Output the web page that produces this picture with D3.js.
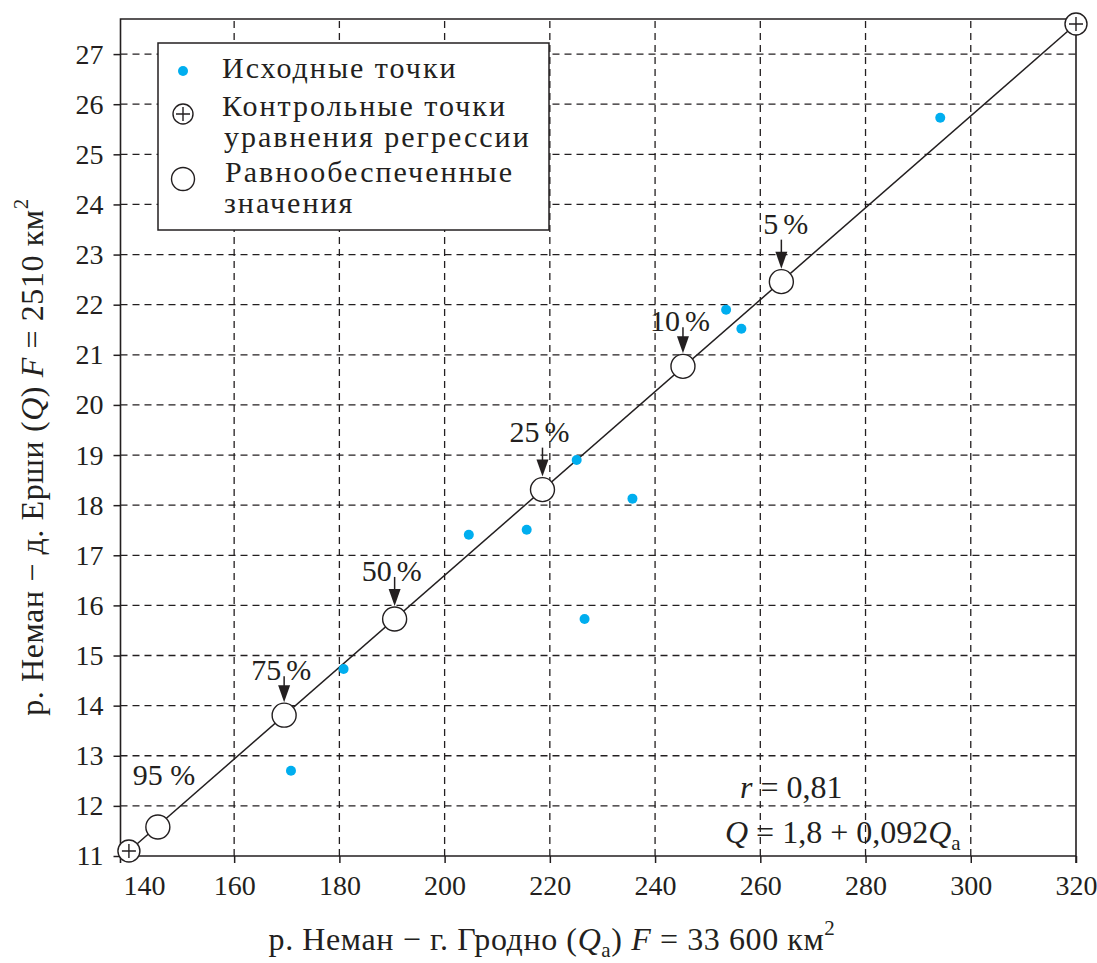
<!DOCTYPE html>
<html>
<head>
<meta charset="utf-8">
<script src="https://cdn.jsdelivr.net/npm/d3@7"></script>
<style>
  body { margin: 0; background: #fff; }
  svg text { font-family: "Liberation Serif", "Times New Roman", Times, Tinos, "DejaVu Serif", "Noto Serif", serif; fill: #231f20; }
</style>
</head>
<body>
<svg id="chart" width="1097" height="963"></svg>
<script>
// исходные точки (Qa - Гродно, Q - Ерши)
const sourceQa = [294.2, 253.5, 256.4, 225.1, 235.7, 204.6, 215.6, 226.6, 180.8, 170.8];
const sourceQ = [25.73, 21.9, 21.52, 18.9, 18.13, 17.41, 17.51, 15.73, 14.73, 12.7];

// контрольные точки уравнения регрессии
const controlQa = [140, 320];
const controlQ = [11.1, 27.6];

// равнообеспеченные значения
const probLabels = ["95", "75", "50", "25", "10", "5"];
const probQa = [145.5, 169.5, 190.5, 218.6, 245.3, 264.0];
const probQ = [11.58, 13.81, 15.73, 18.31, 20.77, 22.46];

const xTicks = d3.range(140, 321, 20);
const yTicks = d3.range(11, 28, 1);

const ink = "#231f20";
const blue = "#00aeef";
const serif = '"Liberation Serif", "Times New Roman", Times, Tinos, "DejaVu Serif", "Noto Serif", serif';

const svg = d3.select("#chart");

const x = d3.scaleLinear().domain([138.4, 320]).range([120.5, 1076]);
const y = d3.scaleLinear().domain([11, 27.7]).range([856, 19]);

const [x0, x1] = x.range();
const [y0, y1] = y.range();

// grid
const grid = svg.append("g")
  .attr("stroke", ink)
  .attr("stroke-width", 1.3)
  .attr("stroke-dasharray", "7,5");

grid.selectAll("line.h")
  .data(yTicks.filter((d) => d > 11))
  .enter()
  .append("line")
  .attr("x1", x0)
  .attr("x2", x1)
  .attr("y1", (d) => y(d))
  .attr("y2", (d) => y(d));

grid.selectAll("line.v")
  .data(xTicks.filter((d) => d > 140 && d < 320))
  .enter()
  .append("line")
  .attr("x1", (d) => x(d))
  .attr("x2", (d) => x(d))
  .attr("y1", y0)
  .attr("y2", y1);

// axes
const yAxis = svg.append("g")
  .attr("transform", "translate(" + x0 + ",0)")
  .call(d3.axisLeft(y).tickValues(yTicks).tickSize(7).tickPadding(10).tickSizeOuter(0));
yAxis.attr("font-family", serif);
yAxis.select(".domain").remove();
yAxis.selectAll("line").attr("stroke", ink).attr("stroke-width", 1.5);
yAxis.selectAll("text").style("font-size", "28px").attr("fill", ink);

const xAxis = svg.append("g")
  .attr("transform", "translate(0," + y0 + ")")
  .call(d3.axisBottom(x).tickValues(xTicks).tickSize(7).tickPadding(12).tickSizeOuter(0));
xAxis.attr("font-family", serif);
xAxis.select(".domain").remove();
xAxis.selectAll("line").attr("stroke", ink).attr("stroke-width", 1.5);
xAxis.selectAll("text").style("font-size", "28px").attr("fill", ink);
// первая подпись сдвинута вправо от рамки
xAxis.selectAll(".tick")
  .filter((d) => d === 140)
  .select("text")
  .attr("dx", 15);
xAxis.selectAll(".tick").filter((d) => d === 140).select("line").remove();

// frame
svg.append("path")
  .attr("fill", "none")
  .attr("stroke", ink)
  .attr("stroke-width", 1.6)
  .attr("d", "M" + x0 + "," + (y0 + 7) + "V" + y1 + "H" + x1 + "V" + (y0 + 7) +
    "M" + x0 + "," + y0 + "H" + x1);

// legend
const legend = svg.append("g");
legend.append("rect")
  .attr("x", 158).attr("y", 43).attr("width", 391).attr("height", 187)
  .attr("fill", "#fff").attr("stroke", ink).attr("stroke-width", 1.5);

legend.append("circle").attr("cx", 183).attr("cy", 71).attr("r", 5).attr("fill", blue);
legend.append("circle").attr("cx", 183).attr("cy", 114).attr("r", 10)
  .attr("fill", "#fff").attr("stroke", ink).attr("stroke-width", 1.4);
legend.append("path").attr("stroke", ink).attr("stroke-width", 1.4)
  .attr("d", "M176,114H190M183,107V121");
legend.append("circle").attr("cx", 183).attr("cy", 179).attr("r", 11.5)
  .attr("fill", "#fff").attr("stroke", ink).attr("stroke-width", 1.4);

const legendLines = [
  ["Исходные точки", 222, 78],
  ["Контрольные точки", 222, 116],
  ["уравнения регрессии", 224, 147],
  ["Равнообеспеченные", 225, 182],
  ["значения", 224, 213],
];
legend.selectAll("text.lg")
  .data(legendLines)
  .enter()
  .append("text")
  .attr("x", (d) => d[1])
  .attr("y", (d) => d[2])
  .style("font-size", "30px")
  .style("letter-spacing", "2px")
  .text((d) => d[0]);

// regression line
svg.append("line")
  .attr("x1", x(controlQa[0])).attr("y1", y(controlQ[0]))
  .attr("x2", x(controlQa[1])).attr("y2", y(controlQ[1]))
  .attr("stroke", ink).attr("stroke-width", 1.5);

// source points
svg.append("g")
  .selectAll("circle")
  .data(sourceQa)
  .enter()
  .append("circle")
  .attr("cx", (d) => x(d))
  .attr("cy", (d, i) => y(sourceQ[i]))
  .attr("r", 5)
  .attr("fill", blue);

// equal-probability points
const probG = svg.append("g");
probG.selectAll("circle")
  .data(probQa)
  .enter()
  .append("circle")
  .attr("cx", (d) => x(d))
  .attr("cy", (d, i) => y(probQ[i]))
  .attr("r", 12)
  .attr("fill", "#fff")
  .attr("stroke", ink)
  .attr("stroke-width", 1.4);

// подписи обеспеченности со стрелками
const labelRaise = [42, 35, 38, 48, 35, 48];
probLabels.forEach((lab, i) => {
  const cx = x(probQa[i]);
  const cy = y(probQ[i]);
  const by = cy - labelRaise[i];
  if (lab === "95") {
    probG.append("text").attr("x", cx - 25).attr("y", by)
      .style("font-size", "30px").text("95 %");
    return;
  }
  probG.append("text").attr("x", cx - 3).attr("y", by)
    .attr("text-anchor", "end").style("font-size", "30px").text(lab);
  probG.append("text").attr("x", cx + 2).attr("y", by)
    .style("font-size", "30px").text("%");
  const top = cy - labelRaise[i] - 4 + (labelRaise[i] > 40 ? 10 : 0);
  const tip = cy - 13;
  probG.append("line")
    .attr("x1", cx).attr("x2", cx).attr("y1", top).attr("y2", tip - 10)
    .attr("stroke", ink).attr("stroke-width", 1.5);
  probG.append("path")
    .attr("fill", ink)
    .attr("d", "M" + (cx - 6) + "," + (tip - 17) + "L" + (cx + 6) + "," + (tip - 17) + "L" + cx + "," + tip + "Z");
});

// control points
const ctrlG = svg.append("g");
controlQa.forEach((qa, i) => {
  const cx = x(qa);
  const cy = y(controlQ[i]);
  ctrlG.append("circle").attr("cx", cx).attr("cy", cy).attr("r", 11)
    .attr("fill", "#fff").attr("stroke", ink).attr("stroke-width", 1.4);
  ctrlG.append("path").attr("stroke", ink).attr("stroke-width", 1.4)
    .attr("d", "M" + (cx - 7) + "," + cy + "H" + (cx + 7) + "M" + cx + "," + (cy - 7) + "V" + (cy + 7));
});

// r и уравнение
const rT = svg.append("text").attr("x", 740).attr("y", 798).style("font-size", "32px");
rT.append("tspan").style("font-style", "italic").text("r");
rT.append("tspan").text(" = 0,81");

const eqT = svg.append("text").attr("x", 725).attr("y", 843).style("font-size", "32px");
eqT.append("tspan").style("font-style", "italic").text("Q");
eqT.append("tspan").text(" = 1,8 + 0,092");
eqT.append("tspan").style("font-style", "italic").text("Q");
eqT.append("tspan").attr("dy", 7).style("font-size", "21px").text("а");

// axis titles
const xt = svg.append("text")
  .attr("x", 552).attr("y", 950)
  .attr("text-anchor", "middle")
  .style("font-size", "32px")
  .style("letter-spacing", "0.6px");
xt.append("tspan").text("р. Неман − г. Гродно (");
xt.append("tspan").style("font-style", "italic").text("Q");
xt.append("tspan").attr("dy", 7).style("font-size", "21px").text("а");
xt.append("tspan").attr("dy", -7).text(") ");
xt.append("tspan").style("font-style", "italic").text("F");
xt.append("tspan").text(" = 33 600 км");
xt.append("tspan").attr("dy", -15).style("font-size", "21px").text("2");

const yt = svg.append("text")
  .attr("transform", "translate(43,457)rotate(-90)")
  .attr("text-anchor", "middle")
  .style("font-size", "32px")
  .style("letter-spacing", "0.6px");
yt.append("tspan").text("р. Неман − д. Ерши (");
yt.append("tspan").style("font-style", "italic").text("Q");
yt.append("tspan").text(") ");
yt.append("tspan").style("font-style", "italic").text("F");
yt.append("tspan").text(" = 2510 км");
yt.append("tspan").attr("dy", -15).style("font-size", "21px").text("2");
</script>
</body>
</html>
